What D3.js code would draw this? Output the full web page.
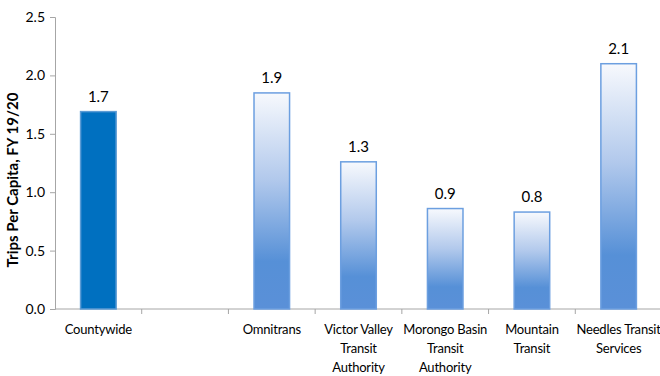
<!DOCTYPE html>
<html>
<head>
<meta charset="utf-8">
<script src="https://cdn.jsdelivr.net/npm/d3@7"></script>
<style>
  body { margin: 0; background: #fff; }
  svg text { font-family: Lato, "Open Sans", sans-serif; }
</style>
</head>
<body>
<div id="chart"></div>
<script>
// Categories (one blank slot between Countywide and the operators)
var categories = ["Countywide", "", "Omnitrans", "Victor Valley Transit Authority",
                  "Morongo Basin Transit Authority", "Mountain Transit", "Needles Transit Services"];
var labelLines = [["Countywide"], [], ["Omnitrans"], ["Victor Valley", "Transit", "Authority"],
                  ["Morongo Basin", "Transit", "Authority"], ["Mountain", "Transit"], ["Needles Transit", "Services"]];
var values = [1.69, null, 1.85, 1.26, 0.86, 0.83, 2.10];
var valueLabels = ["1.7", "", "1.9", "1.3", "0.9", "0.8", "2.1"];
var yTicks = [0, 0.5, 1.0, 1.5, 2.0, 2.5];

var width = 660,
    height = 376;
var margin = {top: 17, right: 0, bottom: 67, left: 55};

var svg = d3.select("#chart")
            .append("svg")
            .attr("width", width)
            .attr("height", height);

// Gradient for the operator bars
var defs = svg.append("defs");
var grad = defs.append("linearGradient")
               .attr("id", "barGrad")
               .attr("x1", "0%").attr("y1", "0%")
               .attr("x2", "0%").attr("y2", "100%");
grad.append("stop").attr("offset", "0%").attr("stop-color", "#f7f9fd");
grad.append("stop").attr("offset", "40%").attr("stop-color", "#b2c9ec");
grad.append("stop").attr("offset", "78%").attr("stop-color", "#5690d7");
grad.append("stop").attr("offset", "100%").attr("stop-color", "#5a90d8");

var x = d3.scaleBand()
          .domain(categories.map((d, i) => i))
          .range([margin.left, 662])
          .paddingInner(0.59)
          .paddingOuter(0.295);

var y = d3.scaleLinear()
          .domain([0, 2.5])
          .range([height - margin.bottom, margin.top]);

// Y axis
var yAxis = svg.append("g")
               .attr("transform", "translate(" + margin.left + ",0)")
               .call(d3.axisLeft(y).tickValues(yTicks).tickFormat(d3.format(".1f")).tickSize(5).tickPadding(5));
yAxis.select(".domain").attr("stroke", "#a6a6a6");
yAxis.selectAll(".tick line").attr("stroke", "#a6a6a6");
yAxis.selectAll("text").attr("font-size", 14).attr("fill", "#000");

// X axis line and ticks (ticks sit between the category slots)
var xStep = x.step();
svg.append("line")
   .attr("x1", margin.left).attr("x2", width)
   .attr("y1", y(0)).attr("y2", y(0))
   .attr("stroke", "#a6a6a6");
svg.selectAll(".xtick")
   .data(d3.range(1, categories.length))
   .enter().append("line")
   .attr("class", "xtick")
   .attr("x1", d => margin.left + d * xStep)
   .attr("x2", d => margin.left + d * xStep)
   .attr("y1", y(0)).attr("y2", y(0) + 5)
   .attr("stroke", "#a6a6a6");

// Bars
var data = values.map((v, i) => ({i: i, v: v, label: valueLabels[i]})).filter(d => d.v !== null);

svg.selectAll(".bar")
   .data(data)
   .enter().append("rect")
   .attr("class", "bar")
   .attr("x", d => x(d.i))
   .attr("y", d => y(d.v))
   .attr("width", x.bandwidth())
   .attr("height", d => y(0) - y(d.v))
   .attr("fill", d => d.i === 0 ? "#0070c0" : "url(#barGrad)")
   .attr("stroke", d => d.i === 0 ? "#5b9bd5" : "#6c9fe0")
   .attr("stroke-width", 1.5);

// Value labels
svg.selectAll(".vlabel")
   .data(data)
   .enter().append("text")
   .attr("class", "vlabel")
   .attr("x", d => x(d.i) + x.bandwidth() / 2)
   .attr("y", d => y(d.v) - 10)
   .attr("text-anchor", "middle")
   .attr("font-size", 15)
   .attr("fill", "#000")
   .text(d => d.label);

// Category labels
var cat = svg.selectAll(".cat")
             .data(labelLines)
             .enter().append("text")
             .attr("class", "cat")
             .attr("text-anchor", "middle")
             .attr("font-size", 13)
             .attr("letter-spacing", -0.2)
             .attr("fill", "#000");
cat.each(function(lines, i) {
    var t = d3.select(this);
    lines.forEach(function(line, j) {
        t.append("tspan")
         .attr("x", x(i) + x.bandwidth() / 2)
         .attr("y", 334 + j * 19)
         .text(line);
    });
});

// Y axis title
svg.append("text")
   .attr("transform", "translate(18," + 180 + ") rotate(-90)")
   .attr("text-anchor", "middle")
   .attr("font-size", 15)
   .attr("font-weight", "bold")
   .attr("fill", "#000")
   .text("Trips Per Capita, FY 19/20");
</script>
</body>
</html>
